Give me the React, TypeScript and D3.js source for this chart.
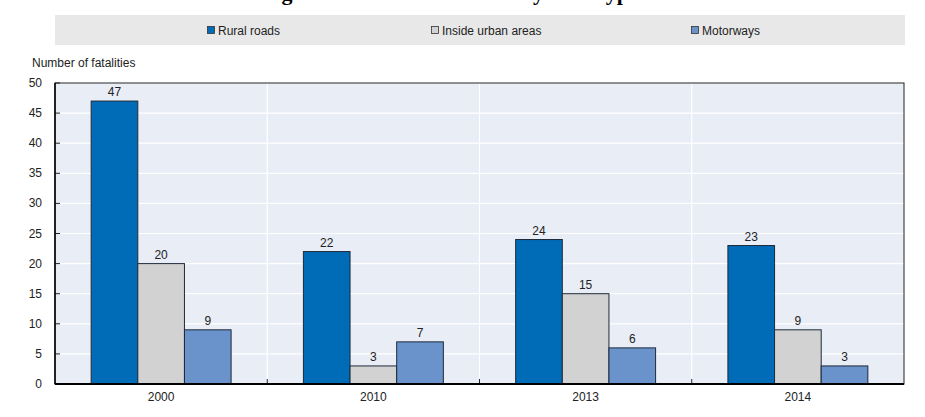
import * as d3 from "d3";

const years = ["2000", "2010", "2013", "2014"];
const seriesNames = ["Rural roads", "Inside urban areas", "Motorways"];
const rural = [47, 22, 24, 23];
const urban = [20, 3, 15, 9];
const motorways = [9, 7, 6, 3];
const yTicks = [0, 5, 10, 15, 20, 25, 30, 35, 40, 45, 50];
const colors = ["#006bb6", "#d2d2d2", "#6a93cc"];

const W = 925;
const H = 417;
const m = { left: 55, right: 904, top: 83, bottom: 384 };
const font = "'Liberation Sans', Arial, sans-serif";

export default function App() {
  const values = [rural, urban, motorways];

  const x0 = d3.scaleBand<string>().domain(years).range([m.left, m.right]);
  const x1 = d3
    .scaleBand<string>()
    .domain(seriesNames)
    .range([0, x0.bandwidth()])
    .paddingInner(0)
    .paddingOuter(0.775);
  const y = d3.scaleLinear().domain([0, 50]).range([m.bottom, m.top]);

  // legend item left edges (marker)
  const legendX = [207, 431, 691];

  return (
    <div style={{ position: "absolute", left: 0, top: 0 }}>
      <svg width={W} height={H} style={{ display: "block" }}>
        {/* title sits mostly above the visible area, as in the reference */}
        <text
          x={262}
          y={0}
          fontFamily="'Liberation Serif', 'Times New Roman', serif"
          fontWeight="bold"
          fontSize={22}
          fill="#000"
        >
          Figure 24.3. Road fatalities by road type
        </text>

        {/* legend */}
        <rect x={55} y={15} width={850} height={30} fill="#e8e8e8" />
        {seriesNames.map((s, i) => (
          <g key={s}>
            <rect
              x={legendX[i] + 0.5}
              y={26.5}
              width={7}
              height={7}
              fill={colors[i]}
              stroke="#333"
              strokeWidth={0.8}
            />
            <text x={legendX[i] + 11} y={34.5} fontFamily={font} fontSize={12} fill="#222">
              {s}
            </text>
          </g>
        ))}

        <text x={32} y={67} fontFamily={font} fontSize={12} fill="#222">
          Number of fatalities
        </text>

        {/* plot background */}
        <rect x={m.left} y={m.top} width={m.right - m.left} height={m.bottom - m.top} fill="#e9edf6" />

        {/* horizontal grid */}
        {yTicks.map((t) => (
          <line key={t} x1={m.left} x2={m.right} y1={y(t)} y2={y(t)} stroke="#fff" strokeWidth={1.2} />
        ))}
        {/* vertical separators */}
        {years.slice(1).map((yr) => (
          <line
            key={yr}
            x1={x0(yr)!}
            x2={x0(yr)!}
            y1={m.top}
            y2={m.bottom}
            stroke="#fff"
            strokeWidth={1.2}
          />
        ))}

        {/* bars */}
        {years.map((yr, j) => (
          <g key={yr} transform={`translate(${x0(yr)},0)`}>
            {seriesNames.map((s, i) => {
              const v = values[i][j];
              const bx = x1(s)!;
              return (
                <g key={s}>
                  <rect
                    x={bx}
                    y={y(v)}
                    width={x1.bandwidth()}
                    height={y(0) - y(v)}
                    fill={colors[i]}
                    stroke="#1d2a3a"
                    strokeWidth={1}
                  />
                  <text
                    x={bx + x1.bandwidth() / 2}
                    y={y(v) - 5}
                    textAnchor="middle"
                    fontFamily={font}
                    fontSize={12}
                    fill="#222"
                  >
                    {v}
                  </text>
                </g>
              );
            })}
          </g>
        ))}

        {/* y ticks and labels */}
        {yTicks.map((t) => (
          <g key={t}>
            <line x1={m.left} x2={m.left + 5} y1={y(t)} y2={y(t)} stroke="#222" strokeWidth={1} />
            <text
              x={42}
              y={y(t) + 4}
              textAnchor="end"
              fontFamily={font}
              fontSize={12}
              fill="#222"
            >
              {t}
            </text>
          </g>
        ))}

        {/* x ticks at band boundaries */}
        {years.slice(1).map((yr) => (
          <line
            key={yr}
            x1={x0(yr)!}
            x2={x0(yr)!}
            y1={m.bottom}
            y2={m.bottom - 5}
            stroke="#222"
            strokeWidth={1}
          />
        ))}
        {years.map((yr) => (
          <text
            key={yr}
            x={x0(yr)! + x0.bandwidth() / 2}
            y={401}
            textAnchor="middle"
            fontFamily={font}
            fontSize={12}
            fill="#222"
          >
            {yr}
          </text>
        ))}

        {/* frame */}
        <rect
          x={m.left}
          y={m.top}
          width={m.right - m.left}
          height={m.bottom - m.top}
          fill="none"
          stroke="#222"
          strokeWidth={1}
        />
        <line x1={m.left} x2={m.left} y1={m.top} y2={m.bottom} stroke="#000" strokeWidth={1.5} />
        <line x1={m.left} x2={m.right} y1={m.bottom} y2={m.bottom} stroke="#000" strokeWidth={2} />
      </svg>
    </div>
  );
}
